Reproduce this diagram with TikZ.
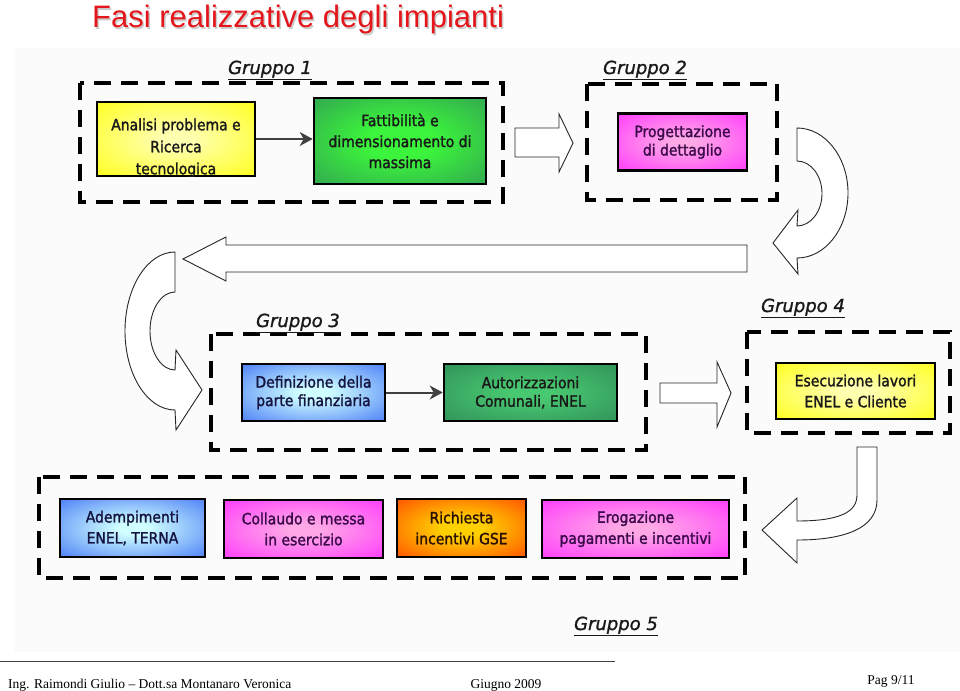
\documentclass[tikz,border=0pt]{standalone}
\usepackage{fontspec}
\setmainfont[FakeBold=1.6]{DejaVu Sans Condensed}
\newfontfamily\titlefont{Liberation Sans}
\newfontfamily\grpfont[FakeBold=1.2]{DejaVu Sans}
\newfontfamily\footfont{Liberation Serif}
\usetikzlibrary{arrows.meta}
\definecolor{titlered}{HTML}{E3161B}
\definecolor{yin}{HTML}{FFFFB0}
\definecolor{yout}{HTML}{FFFF1E}
\definecolor{gin}{HTML}{3CF43C}
\definecolor{gout}{HTML}{2E8B57}
\definecolor{g2in}{HTML}{48C870}
\definecolor{g2out}{HTML}{2E8B57}
\definecolor{magin}{HTML}{FFA8E6}
\definecolor{magout}{HTML}{FF2EFF}
\definecolor{bin}{HTML}{D0FFFF}
\definecolor{bout}{HTML}{3366F5}
\definecolor{oin}{HTML}{FFD000}
\definecolor{oout}{HTML}{FF3000}
\definecolor{purpletxt}{HTML}{3A0A4A}
\definecolor{navytxt}{HTML}{141440}
\definecolor{browntxt}{HTML}{2A1000}
\definecolor{connc}{HTML}{404040}
\pgfdeclareradialshading{shY}{\pgfpointorigin}{color(0bp)=(yin); color(5bp)=(yin); color(36bp)=(yout); color(50bp)=(yout)}
\pgfdeclareradialshading{shG}{\pgfpointorigin}{color(0bp)=(gin); color(10bp)=(gin); color(46bp)=(gout); color(50bp)=(gout)}
\pgfdeclareradialshading{shGb}{\pgfpointorigin}{color(0bp)=(g2in); color(6bp)=(g2in); color(40bp)=(g2out); color(50bp)=(g2out)}
\pgfdeclareradialshading{shM}{\pgfpointorigin}{color(0bp)=(magin); color(5bp)=(magin); color(40bp)=(magout); color(50bp)=(magout)}
\pgfdeclareradialshading{shB}{\pgfpointorigin}{color(0bp)=(bin); color(5bp)=(bin); color(42bp)=(bout); color(50bp)=(bout)}
\pgfdeclareradialshading{shO}{\pgfpointorigin}{color(0bp)=(oin); color(8bp)=(oin); color(44bp)=(oout); color(50bp)=(oout)}
\tikzset{
  pbox/.style={draw=black, line width=2.6pt, inner sep=0pt, align=center,
    font=\fontsize{15.5}{21}\selectfont, text=black!90},
  tight/.style={font=\fontsize{15.5}{18.5}\selectfont},
  grpline/.style={draw=black, line width=4.6pt, dash pattern=on 17pt off 10pt},
  barrow/.style={draw=black!85, line width=0.9pt, fill=white, line join=miter},
  conn/.style={draw=connc, line width=2pt, -{Stealth[length=13pt,width=14pt,inset=4pt]}},
  grplab/.style={anchor=base, font=\grpfont\itshape\fontsize{18}{18}\selectfont, text=black!90, inner sep=0pt},
  foot/.style={anchor=base, font=\footfont\fontsize{13.5}{14}\selectfont, inner sep=0pt}
}
\begin{document}
\begin{tikzpicture}[x=1pt,y=-1pt]
\useasboundingbox (0,0) rectangle (960,690);
\fill[black!1.5] (14,48) rectangle (960,652);
% title
\node[anchor=base west, inner sep=0pt, font=\titlefont\fontsize{31}{31}\selectfont, text=black!20] (titsh) at (93.5,29.5) {Fasi realizzative degli impianti};
\node[anchor=base west, inner sep=0pt, font=\titlefont\fontsize{31}{31}\selectfont, text=titlered] (title) at (92,28) {Fasi realizzative degli impianti};
% group frames
\draw[grpline] (80,83) rectangle (503,202);
\draw[grpline] (587,84) rectangle (777,200);
\draw[grpline] (211,334) rectangle (646,450);
\draw[grpline] (747,332) rectangle (950,433);
\draw[grpline] (39,477) rectangle (745,578);
% group labels
\node[grplab] (lg1) at (270,74) {\underline{Gruppo 1}};
\node[grplab] (lg2) at (645,74) {\underline{Gruppo 2}};
\node[grplab] (lg3) at (298,327) {\underline{Gruppo 3}};
\node[grplab] (lg4) at (803,312) {\underline{Gruppo 4}};
\node[grplab] (lg5) at (616,630) {\underline{Gruppo 5}};
% block arrows
\draw[barrow] (515,128) -- (559,128) -- (559,114) -- (573,143) -- (559,172) -- (559,157) -- (515,157) -- cycle;
\draw[barrow] (660,383) -- (717,383) -- (717,362) -- (731,393) -- (717,427) -- (717,403) -- (660,403) -- cycle;
\draw[barrow] (747,245) -- (226,245) -- (226,237) -- (183,259) -- (226,281) -- (226,272) -- (747,272) -- cycle;
\draw[barrow] (797,128) arc[start angle=90, end angle=-90, x radius=51pt, y radius=65pt]
  -- (798,274) -- (773,243) -- (798,210) -- (797,226)
  arc[start angle=-90, end angle=90, x radius=25pt, y radius=32.5pt] -- cycle;
\draw[barrow] (175,252) arc[start angle=90, end angle=270, x radius=50pt, y radius=79pt]
  -- (176,430) -- (202,390) -- (176,350) -- (175,370)
  arc[start angle=270, end angle=90, x radius=25pt, y radius=39pt] -- cycle;
\draw[barrow] (857,447) -- (877,447) -- (877,500) .. controls (877,528) and (845,540) .. (797,540)
  -- (797,563) -- (762,530) -- (797,498) -- (797,521) .. controls (840,521) and (857,512) .. (857,495) -- cycle;
% Gruppo 1
\node[pbox, shading=shY, minimum width=158pt, minimum height=74pt] (a1) at (176,139) {};
\begin{scope}
\clip ([xshift=1.3pt,yshift=1.3pt]a1.south west) rectangle ([xshift=-1.3pt,yshift=-1.3pt]a1.north east);
\node[align=center, inner sep=0pt, font=\fontsize{15.5}{22}\selectfont, text=black!90] (a1t) at (176,148) {Analisi problema e\\Ricerca\\tecnologica};
\end{scope}
\node[pbox, shading=shG, minimum width=172pt, minimum height=86pt] (a2) at (400,141) {Fattibilità e\\dimensionamento di\\massima};
\draw[conn] (a1.east) -- (a1.east -| a2.west);
% Gruppo 2
\node[pbox, tight, shading=shM, minimum width=129pt, minimum height=57pt, text=purpletxt] (b1) at (682.5,142) {Progettazione\\di dettaglio};
% Gruppo 3
\node[pbox, tight, shading=shB, minimum width=143pt, minimum height=57pt, text=navytxt] (c1) at (313.5,392.5) {Definizione della\\parte finanziaria};
\node[pbox, tight, shading=shGb, minimum width=173pt, minimum height=57pt] (c2) at (530.5,392.5) {Autorizzazioni\\Comunali, ENEL};
\draw[conn] (c1.east) -- (c2.west);
% Gruppo 4
\node[pbox, shading=shY, minimum width=159pt, minimum height=56pt] (d1) at (855.5,391) {Esecuzione lavori\\ENEL e Cliente};
% Gruppo 5
\node[pbox, shading=shB, minimum width=145pt, minimum height=58pt, text=navytxt] (e1) at (132.5,528) {Adempimenti\\ENEL, TERNA};
\node[pbox, shading=shM, minimum width=159pt, minimum height=58pt, text=purpletxt] (e2) at (303.5,529) {Collaudo e messa\\in esercizio};
\node[pbox, shading=shO, minimum width=129pt, minimum height=58pt, text=browntxt] (e3) at (461.5,528) {Richiesta\\incentivi GSE};
\node[pbox, shading=shM, minimum width=187pt, minimum height=58pt, text=purpletxt] (e4) at (635.5,529) {Erogazione\\pagamenti e incentivi};
% footer
\coordinate (fl1) at (0,661);
\coordinate (fl2) at (615,661);
\draw[black!75, line width=1pt] (fl1) -- (fl2);
\node[foot, anchor=base west] (f1) at (8,688) {Ing. Raimondi Giulio – Dott.sa Montanaro Veronica};
\node[foot] (f2) at (506,688) {Giugno 2009};
\node[foot] (f3) at (891,684) {Pag 9/11};
\end{tikzpicture}
\end{document}
